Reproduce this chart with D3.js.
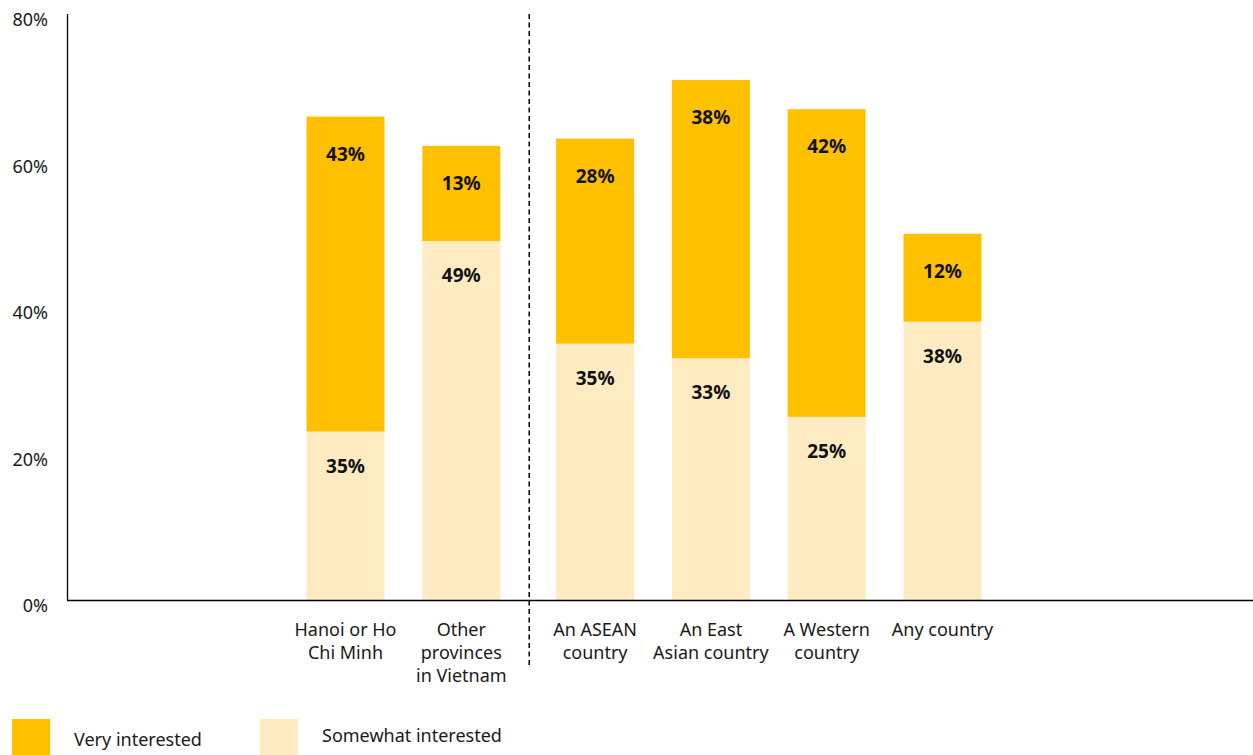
<!DOCTYPE html>
<html lang="en">
<head>
    <meta charset="UTF-8">
    <title>Interest in working location</title>
    <script src="https://cdnjs.cloudflare.com/ajax/libs/d3/7.8.5/d3.min.js"></script>
    <style>
        body {
            margin: 0;
            font-family: "Noto Sans", Arial, sans-serif;
            background: #fff;
        }
        .tick-label, .cat-label, .legend text {
            font-size: 18px;
            fill: #1a1a1a;
        }
        .value-label {
            font-size: 19px;
            font-weight: bold;
            fill: #111;
            text-anchor: middle;
        }
    </style>
</head>
<body>
    <div id="chart"></div>

    <script>
        // Data
        const categories = [
            ["Hanoi or Ho", "Chi Minh"],
            ["Other", "provinces", "in Vietnam"],
            ["An ASEAN", "country"],
            ["An East", "Asian country"],
            ["A Western", "country"],
            ["Any country"]
        ];
        // bar heights as drawn (%)
        const somewhat = [23, 49, 35, 33, 25, 38];
        const very = [43, 13, 28, 38, 42, 12];
        // printed labels (%)
        const somewhatLabels = [35, 49, 35, 33, 25, 38];
        const veryLabels = [43, 13, 28, 38, 42, 12];
        const yTicks = [0, 20, 40, 60, 80];
        const splitAfter = 1; // dashed divider between domestic and abroad

        const W = 1253, H = 755;
        const colVery = "#FFC000";
        const colSome = "#FEEBC1";

        const svg = d3.select("#chart").append("svg")
            .attr("width", W)
            .attr("height", H);

        const y = d3.scaleLinear().domain([0, 80]).range([600, 14]);

        // bar centres: evenly stepped with a wider gap at the divider
        const step = 115.8, gapExtra = 18, barW = 78;
        const xi = d3.scaleLinear().domain([0, 1]).range([345.5, 345.5 + step]);
        const cx = i => xi(i) + (i > splitAfter ? gapExtra : 0);

        const rows = categories.map((c, i) => ({
            cat: c, some: somewhat[i], very: very[i],
            someLab: somewhatLabels[i], veryLab: veryLabels[i], i: i
        }));

        // somewhat segment
        svg.selectAll(".bar-some")
            .data(rows).enter().append("rect")
            .attr("x", d => cx(d.i) - barW / 2)
            .attr("width", barW)
            .attr("y", d => y(d.some))
            .attr("height", d => y(0) - y(d.some))
            .attr("fill", colSome);

        // very segment
        svg.selectAll(".bar-very")
            .data(rows).enter().append("rect")
            .attr("x", d => cx(d.i) - barW / 2)
            .attr("width", barW)
            .attr("y", d => y(d.some + d.very))
            .attr("height", d => y(d.some) - y(d.some + d.very))
            .attr("fill", colVery);

        svg.selectAll(".lab-some")
            .data(rows).enter().append("text")
            .attr("class", "value-label")
            .attr("x", d => cx(d.i))
            .attr("y", d => y(d.some) + 41)
            .text(d => d.someLab + "%");

        svg.selectAll(".lab-very")
            .data(rows).enter().append("text")
            .attr("class", "value-label")
            .attr("x", d => cx(d.i))
            .attr("y", d => y(d.some + d.very) + 44)
            .text(d => d.veryLab + "%");

        // axes
        svg.append("line")
            .attr("x1", 67.5).attr("x2", 67.5)
            .attr("y1", y(80)).attr("y2", y(0))
            .attr("stroke", "#000").attr("stroke-width", 1.3);
        svg.append("line")
            .attr("x1", 67).attr("x2", W)
            .attr("y1", y(0) + 0.5).attr("y2", y(0) + 0.5)
            .attr("stroke", "#000").attr("stroke-width", 1.3);

        svg.selectAll(".tick-label")
            .data(yTicks).enter().append("text")
            .attr("class", "tick-label")
            .attr("x", 48)
            .attr("y", d => y(d) + 12)
            .attr("text-anchor", "end")
            .text(d => d + "%");

        // dashed divider
        const divX = (cx(splitAfter) + cx(splitAfter + 1)) / 2 + 1;
        svg.append("line")
            .attr("x1", divX).attr("x2", divX)
            .attr("y1", y(80)).attr("y2", 668)
            .attr("stroke", "#000")
            .attr("stroke-width", 1.5)
            .attr("stroke-dasharray", "5,3.5");

        // category labels
        const cats = svg.selectAll(".cat-label")
            .data(rows).enter().append("text")
            .attr("class", "cat-label")
            .attr("text-anchor", "middle")
            .attr("x", d => cx(d.i))
            .attr("y", 636);
        cats.selectAll("tspan")
            .data(d => d.cat.map(t => ({ t: t, x: cx(d.i) })))
            .enter().append("tspan")
            .attr("x", t => t.x)
            .attr("dy", (t, j) => j === 0 ? 0 : 23)
            .text(t => t.t);

        // legend
        const legend = svg.append("g").attr("class", "legend");
        const items = [
            { label: "Very interested", color: colVery, x: 12, ty: 746 },
            { label: "Somewhat interested", color: colSome, x: 260, ty: 742 }
        ];
        items.forEach(it => {
            legend.append("rect")
                .attr("x", it.x).attr("y", 719)
                .attr("width", 38).attr("height", 38)
                .attr("fill", it.color);
            legend.append("text")
                .attr("x", it.x + 62)
                .attr("y", it.ty)
                .text(it.label);
        });
    </script>
</body>
</html>
